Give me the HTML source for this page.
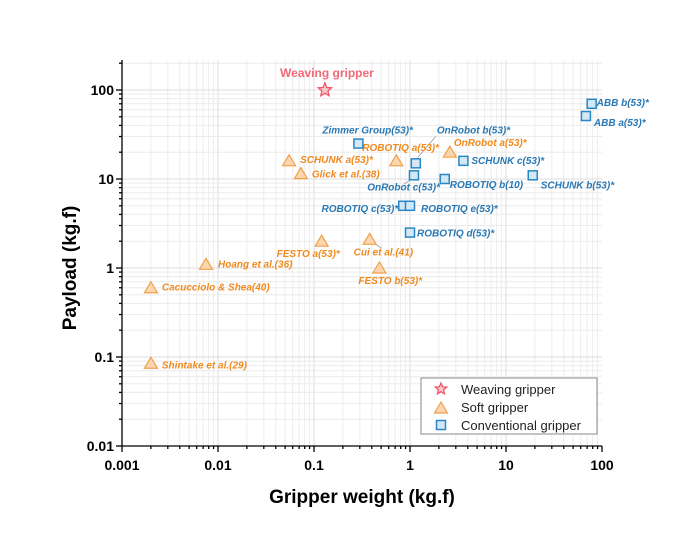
<!DOCTYPE html>
<html><head><meta charset="utf-8"><style>
body{margin:0;background:#fff;}
svg text{font-family:"Liberation Sans",sans-serif;}
.lb{font-size:10px;font-weight:bold;font-style:italic;}
</style></head><body>
<svg id="chart" width="700" height="537" xmlns="http://www.w3.org/2000/svg"></svg>
<script>
const weavingX=[0.13], weavingY=[100];
const softNames=["SCHUNK a(53)*","ROBOTIQ a(53)*","OnRobot a(53)*","Glick et al.(38)","FESTO a(53)*","Cui et al.(41)","FESTO b(53)*","Hoang et al.(36)","Cacucciolo & Shea(40)","Shintake et al.(29)"];
const softX=[0.055,0.72,2.6,0.073,0.12,0.38,0.48,0.0075,0.002,0.002];
const softY=[16,16,20,11.5,2,2.1,1,1.1,0.6,0.085];
const convNames=["Zimmer Group(53)*","OnRobot b(53)*","OnRobot c(53)*","SCHUNK c(53)*","ROBOTIQ b(10)","SCHUNK b(53)*","ROBOTIQ c(53)*","ROBOTIQ e(53)*","ROBOTIQ d(53)*","ABB b(53)*","ABB a(53)*"];
const convX=[0.29,1.15,1.1,3.6,2.3,19,0.85,1.0,1.0,78,68];
const convY=[25,15,11,16,10,11,5,5,2.5,70,51];
const xTicks=["0.001","0.01","0.1","1","10","100"];
const yTicks=["0.01","0.1","1","10","100"];
// label offsets (layout only)
const softOff=[[11,2,"start"],[-34,-10,"start"],[4,-6,"start"],[11,4,"start"],[-45,16,"start"],[-16,16,"start"],[-21,16,"start"],[12,3,"start"],[11,3,"start"],[11,5,"start"]];
const convOff=[[-36,-10,"start"],[21,-30,"start"],[26,15,"end"],[8,3,"start"],[5,9,"start"],[8,13,"start"],[-5,6,"end"],[11,6,"start"],[7,4,"start"],[5,2,"start"],[8,10,"start"]];

const NS="http://www.w3.org/2000/svg";
const svg=document.getElementById("chart");
const L=122,R=602,B=446,T=60;
const X=v=>L+(Math.log10(v)+3)*96;
const Y=v=>B-(Math.log10(v)+2)*89;
function mk(tag,attrs,parent){const e=document.createElementNS(NS,tag);for(const k in attrs)e.setAttribute(k,attrs[k]);(parent||svg).appendChild(e);return e;}

// grid
const grid=mk("g",{});


for(let d=-3;d<2;d++)for(let m=1;m<10;m++){const x=X(m*Math.pow(10,d));mk("line",{x1:x,x2:x,y1:T,y2:B,stroke:m==1?"#dcdcdc":"#ececec","stroke-width":1},grid);}
for(let d=-2;d<3;d++)for(let m=1;m<10;m++){const y=Y(m*Math.pow(10,d));if(y<T)continue;mk("line",{x1:L,x2:R,y1:y,y2:y,stroke:m==1?"#dcdcdc":"#ececec","stroke-width":1},grid);}
// axes
const ax=mk("g",{stroke:"#000","stroke-width":1.3});


mk("line",{x1:L,x2:L,y1:T,y2:B},ax);mk("line",{x1:L,x2:R,y1:B,y2:B},ax);
for(let d=-3;d<2;d++)for(let m=1;m<10;m++){const x=X(m*Math.pow(10,d));mk("line",{x1:x,x2:x,y1:B,y2:B+(m==1?6:3)},ax);}
mk("line",{x1:R,x2:R,y1:B,y2:B+6},ax);
for(let d=-2;d<3;d++)for(let m=1;m<10;m++){const y=Y(m*Math.pow(10,d));if(y<T)continue;mk("line",{x1:L,x2:L-(m==1?6:3),y1:y,y2:y},ax);}
xTicks.forEach(t=>{const e=mk("text",{x:X(+t),y:470,"text-anchor":"middle","font-size":14,"font-weight":"bold"});e.textContent=t;

});
yTicks.forEach(t=>{const e=mk("text",{x:114,y:Y(+t)+5,"text-anchor":"end","font-size":14,"font-weight":"bold"});e.textContent=t;

});
let e=mk("text",{x:362,y:503,"text-anchor":"middle","font-size":19,"font-weight":"bold"});e.textContent="Gripper weight (kg.f)";


e=mk("text",{x:0,y:0,"text-anchor":"middle","font-size":19,"font-weight":"bold",transform:"translate(76,268) rotate(-90)"});e.textContent="Payload (kg.f)";



function star(cx,cy,r,g){let p=[];for(let i=0;i<10;i++){const a=-Math.PI/2+i*Math.PI/5,rr=i%2?r*0.45:r;p.push((cx+rr*Math.cos(a)).toFixed(1)+","+(cy+rr*Math.sin(a)).toFixed(1));}return mk("polygon",{points:p.join(" "),fill:"#fbc6cc",stroke:"#ee5566","stroke-width":1.3},g);}
function tri(cx,cy,g){return mk("polygon",{points:`${cx},${cy-6} ${cx-6.5},${cy+5} ${cx+6.5},${cy+5}`,fill:"#fcd6ae",stroke:"#f0a04a","stroke-width":1.2},g);}
function sq(cx,cy,g){return mk("rect",{x:cx-4.5,y:cy-4.5,width:9,height:9,fill:"#d2e8f6",stroke:"#2a86c4","stroke-width":1.5},g);}

// leader lines
const ll=mk("g",{stroke:"#999","stroke-width":0.8});
mk("line",{x1:X(convX[1])+2,y1:Y(convY[1])-6,x2:X(convX[1])+20,y2:Y(convY[1])-27},ll);
mk("line",{x1:X(convX[2])-3,y1:Y(convY[2])+4,x2:X(convX[2])-10,y2:Y(convY[2])+9},ll);
mk("line",{x1:X(softX[5])+5,y1:Y(softY[5])+4,x2:X(softX[5])+12,y2:Y(softY[5])+9},ll);

// weaving
const wg=mk("g",{});


star(X(weavingX[0]),Y(weavingY[0]),7,wg);
e=mk("text",{x:X(weavingX[0])+2,y:Y(weavingY[0])-13,"text-anchor":"middle","font-size":12,"font-weight":"bold",fill:"#f06a78"},wg);e.textContent="Weaving gripper";

softX.forEach((v,i)=>{const g=mk("g",{});


const cx=X(v),cy=Y(softY[i]);tri(cx,cy,g);
const o=softOff[i];const t=mk("text",{x:cx+o[0],y:cy+o[1],"text-anchor":o[2],class:"lb",fill:"#f08a20"},g);t.textContent=softNames[i];});
convX.forEach((v,i)=>{const g=mk("g",{});


const cx=X(v),cy=Y(convY[i]);sq(cx,cy,g);
const o=convOff[i];const t=mk("text",{x:cx+o[0],y:cy+o[1],"text-anchor":o[2],class:"lb",fill:"#2a78b4"},g);t.textContent=convNames[i];});

// legend
const lg=mk("g",{});


mk("rect",{x:421,y:378,width:176,height:56,fill:"#fff",stroke:"#888","stroke-width":1},lg);
star(441,389,6,lg);tri(441,408,lg);sq(441,425,lg);
[["Weaving gripper",394],["Soft gripper",412],["Conventional gripper",430]].forEach(a=>{const t=mk("text",{x:461,y:a[1],"font-size":13,fill:"#222"},lg);t.textContent=a[0];

});
</script>
</body></html>
